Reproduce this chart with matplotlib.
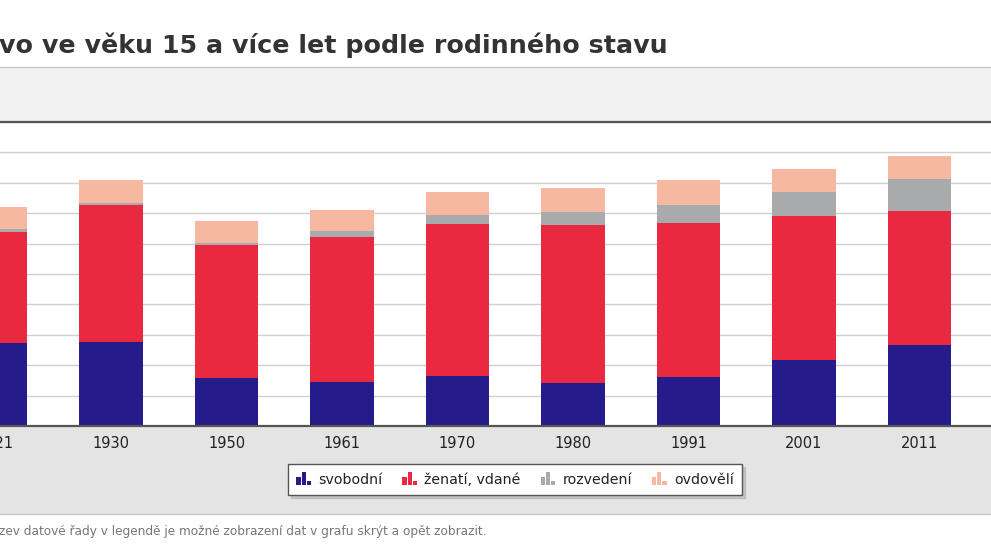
import numpy as np
import matplotlib
matplotlib.use("Agg")
import matplotlib.pyplot as plt
from matplotlib.patches import Rectangle
from matplotlib.legend_handler import HandlerBase

# hodnoty v milionech osob
years = ["1921", "1930", "1950", "1961", "1970", "1980", "1991", "2001", "2011"]
svobodni = [2.73, 2.75, 1.57, 1.44, 1.63, 1.43, 1.61, 2.16, 2.66]
zenati = [3.66, 4.52, 4.37, 4.79, 5.03, 5.17, 5.08, 4.75, 4.41]
rozvedeni = [0.08, 0.08, 0.09, 0.17, 0.27, 0.43, 0.58, 0.80, 1.05]
ovdoveli = [0.74, 0.75, 0.70, 0.72, 0.78, 0.80, 0.83, 0.76, 0.77]

labels = ["svobodní", "ženatí, vdané", "rozvedení", "ovdovělí"]
colors = ["#251b8b", "#e9293f", "#a9aaac", "#f7b8a2"]

W, H = 991, 558


class BarIcon(HandlerBase):
    # malá ikonka tří sloupečků jako v legendě originálu
    def create_artists(self, legend, orig_handle, xd, yd, width, height, fontsize, trans):
        c = orig_handle.get_facecolor()
        bw = width / 3.4
        gap = (width - 3 * bw) / 2
        hs = [0.62, 1.0, 0.35]
        out = []
        for k, h in enumerate(hs):
            r = Rectangle((k * (bw + gap), -yd - height * 0.2), bw, height * 1.35 * h,
                          facecolor=c, edgecolor="none", transform=trans)
            out.append(r)
        return out


fig = plt.figure(figsize=(W / 100, H / 100), dpi=100)
fig.patch.set_facecolor("white")

# pruhy pozadí
fig.patches.append(Rectangle((0, 1 - 122 / H), 1, 55 / H, transform=fig.transFigure,
                             facecolor="#f2f2f2", edgecolor="none", zorder=-2))
fig.lines.append(plt.Line2D([0, 1], [1 - 67 / H] * 2, transform=fig.transFigure,
                            color="#c8c8c8", lw=1, zorder=-1))
fig.patches.append(Rectangle((0, 1 - 514 / H), 1, 88 / H, transform=fig.transFigure,
                             facecolor="#e4e4e4", edgecolor="none", zorder=-2))
fig.lines.append(plt.Line2D([0, 1], [1 - 514 / H] * 2, transform=fig.transFigure,
                            color="#c8c8c8", lw=1, zorder=-1))

step = 115.5
left_px = -4.5 - step / 2
ax = fig.add_axes([left_px / W, 1 - 426 / H, (W - left_px) / W, (426 - 122) / H])
ax.set_facecolor("white")
x = np.arange(len(years))
ax.set_xlim(-0.5, (W + 4.5) / step)
ax.set_ylim(0, 10)

bottom = np.zeros(len(years))
for vals, lab, col in zip([svobodni, zenati, rozvedeni, ovdoveli], labels, colors):
    ax.bar(x, vals, width=0.55, bottom=bottom, color=col, label=lab, linewidth=0, zorder=3)
    bottom += np.array(vals)

ax.set_yticks(range(11))
ax.set_yticklabels([])
ax.grid(axis="y", color="#d0d0d0", lw=1, zorder=0)
ax.tick_params(axis="y", length=0)
ax.tick_params(axis="x", length=0, pad=7, labelsize=10.5, labelcolor="#222222")
ax.set_xticks(x)
ax.set_xticklabels(years)
for s in ["left", "right"]:
    ax.spines[s].set_visible(False)
for s in ["top", "bottom"]:
    ax.spines[s].set_color("#555555")
    ax.spines[s].set_linewidth(1.6)
    ax.spines[s].set_zorder(5)

handles, labs = ax.get_legend_handles_labels()
handles = [h.patches[0] for h in handles]
leg = fig.legend(handles, labs, loc="center", bbox_to_anchor=(515 / W, 1 - 479.5 / H),
                 ncol=4, fontsize=10.2, frameon=True, fancybox=False,
                 shadow={"ox": 2, "oy": -2, "color": "#b0b0b0", "alpha": 0.6},
                 handler_map={matplotlib.patches.Rectangle: BarIcon()},
                 handlelength=1.05, handleheight=0.7, handletextpad=0.5,
                 columnspacing=1.4, borderpad=0.6)
leg.get_frame().set_edgecolor("#555555")
leg.get_frame().set_linewidth(1)
for t in leg.get_texts():
    t.set_color("#222222")

fig.text(-1 / W, 1 - 52.5 / H, "vo ve věku 15 a více let podle rodinného stavu",
         fontsize=18.3, fontweight="bold", color="#333333", ha="left", va="baseline")
fig.text(-1 / W, 1 - 531 / H,
         "zev datové řady v legendě je možné zobrazení dat v grafu skrýt a opět zobrazit.",
         fontsize=8.7, color="#777777", ha="left", va="center")

fig.savefig("out.png", dpi=100)
